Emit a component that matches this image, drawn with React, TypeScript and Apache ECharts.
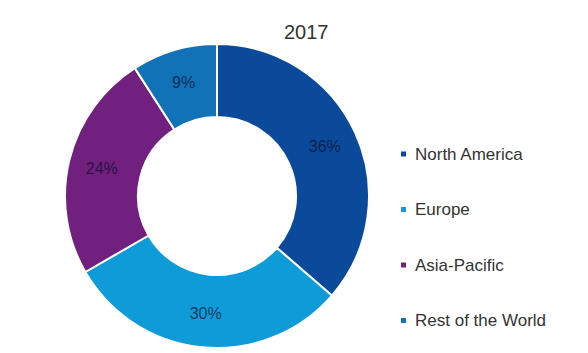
import React, { useEffect, useRef } from "react";
import * as echarts from "echarts";

const categories = ["North America", "Europe", "Asia-Pacific", "Rest of the World"];
const shares = [36, 30, 24, 9];
const colors = ["#0b4a9a", "#0e9bd8", "#71207f", "#1272b8"];
const titleText = "2017";

export default function App() {
  const ref = useRef<HTMLDivElement>(null);
  useEffect(() => {
    document.body.style.margin = "0";
    const chart = echarts.init(ref.current!, null, { renderer: "svg" });
    const font = "'Liberation Sans', Arial, sans-serif";
    chart.setOption({
      animation: false,
      backgroundColor: "#ffffff",
      color: colors,
      title: {
        text: titleText,
        left: 284,
        top: 22,
        padding: 0,
        textStyle: { fontFamily: font, fontSize: 20, fontWeight: "normal", color: "#333333", lineHeight: 20 },
      },
      legend: {
        orient: "vertical",
        left: 399,
        top: 144,
        padding: 0,
        icon: "rect",
        itemWidth: 7,
        itemHeight: 7,
        itemGap: 35.5,
        data: categories,
        textStyle: {
          fontFamily: font,
          fontSize: 17,
          color: "#333333",
          lineHeight: 20,
          padding: [0, 0, 0, 3],
        },
      },
      series: [
        {
          type: "pie",
          center: [217, 196],
          radius: [79, 152],
          startAngle: 90,
          clockwise: true,
          avoidLabelOverlap: false,
          itemStyle: { borderColor: "#ffffff", borderWidth: 2 },
          label: {
            show: true,
            position: "inside",
            formatter: "{c}%",
            fontFamily: font,
            fontSize: 16,
            color: "rgba(5,10,40,0.7)",
          },
          labelLine: { show: false },
          emphasis: { disabled: true },
          data: categories.map((name, i) => ({ name, value: shares[i] })),
        },
      ],
    });
    return () => chart.dispose();
  }, []);
  return <div ref={ref} style={{ width: 588, height: 353 }} />;
}
